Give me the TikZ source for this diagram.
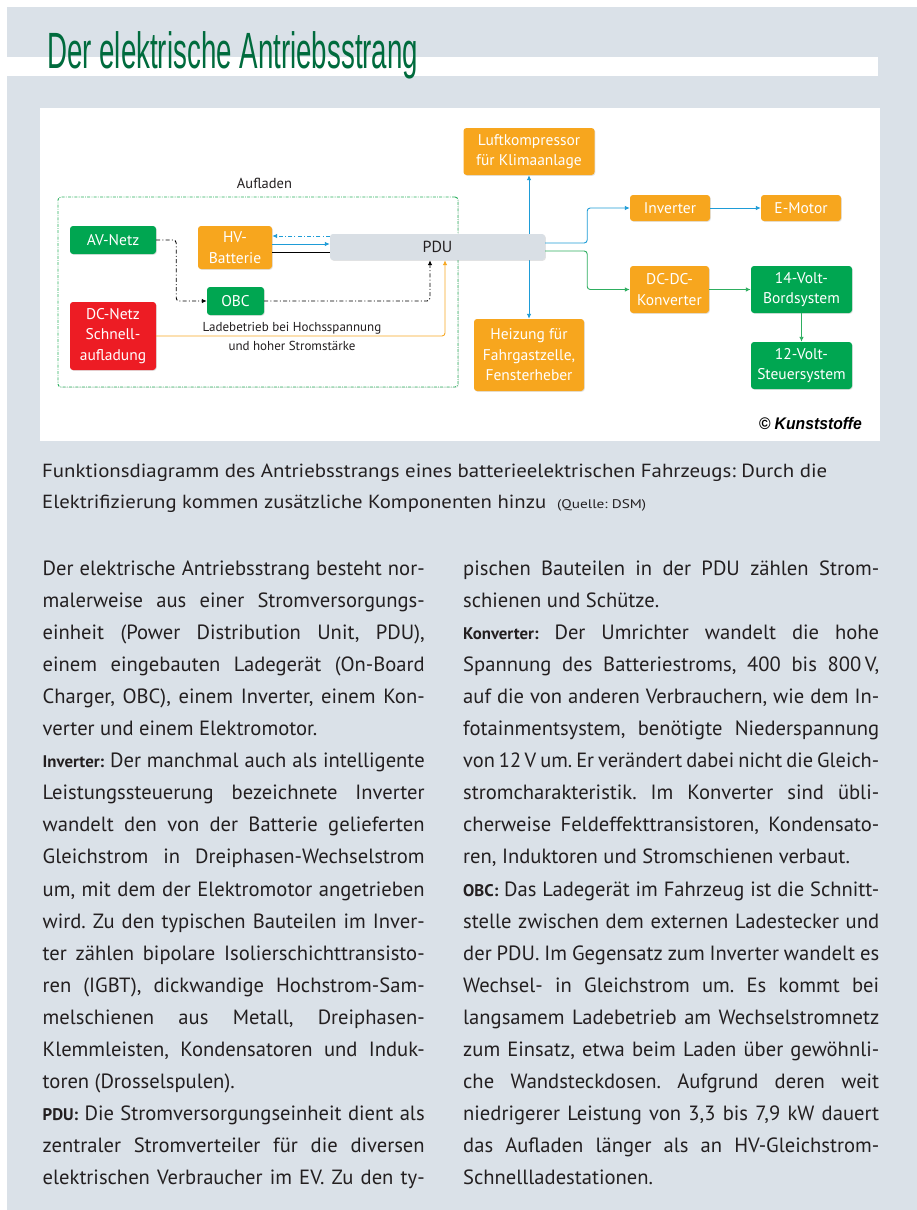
\documentclass[tikz,border=0pt]{standalone}
\usepackage{fontspec}
\usepackage{graphicx}
\setmainfont{PT Sans}
\newfontfamily\libsans{Liberation Sans}
\usetikzlibrary{arrows.meta,shadows,calc}
\definecolor{panelgray}{RGB}{218,225,232}
\definecolor{boxgreen}{RGB}{0,166,81}
\definecolor{boxorange}{RGB}{247,166,30}
\definecolor{boxred}{RGB}{237,28,36}
\definecolor{pdugray}{RGB}{217,223,229}
\definecolor{lineblue}{RGB}{30,156,215}
\definecolor{linegreen}{RGB}{46,174,96}
\definecolor{lineorange}{RGB}{247,168,35}
\definecolor{dashgreen}{RGB}{45,176,95}
\definecolor{titlegreen}{RGB}{0,107,61}
\definecolor{txt}{RGB}{35,31,32}
\frenchspacing
\newcommand\bxfont{\fontsize{15.5}{20.5}\selectfont}
\newcommand\bodyf{\fontsize{20.6}{20.6}\selectfont}
\newcommand\leadin[1]{{\fontsize{16.8}{16.8}\selectfont\bfseries #1}}
\newsavebox\jbox
\newcommand\jline[2]{%
  \sbox\jbox{\spaceskip=0.2em\relax #2}%
  \ifdim\wd\jbox>#1\relax\resizebox{#1}{\height}{\usebox\jbox}%
  \else\hbox to #1{\spaceskip=0.26em plus 4em minus 0.06em\relax #2}\fi}
\newcommand\LL[3]{\node[bodytext] (#1) at (42.5,#2) {\jline{382pt}{#3}};}
\newcommand\LE[3]{\node[bodytext] (#1) at (42.5,#2) {#3};}
\newcommand\RL[3]{\node[bodytext] (#1) at (463,#2) {\jline{416pt}{#3}};}
\newcommand\RE[3]{\node[bodytext] (#1) at (463,#2) {#3};}
\begin{document}
\begin{tikzpicture}[x=1pt,y=-1pt,
  box/.style={rounded corners=3pt, inner sep=1pt, align=center, text=white, font=\bxfont,
    drop shadow={opacity=0.22, shadow xshift=0.8pt, shadow yshift=-0.8pt}},
  gbox/.style={box, fill=boxgreen},
  obox/.style={box, fill=boxorange},
  rbox/.style={box, fill=boxred},
  conn/.style={line width=0.9pt},
  arr/.style={-{Latex[length=5pt,width=4.5pt]}},
  ddash/.style={dash pattern=on 4pt off 2.2pt on 1pt off 2.2pt},
  bodytext/.style={anchor=base west, inner sep=0pt, text=txt, font=\bodyf},
  captext/.style={anchor=base west, inner sep=0pt, text=txt}]
\useasboundingbox (0,0) rectangle (917,1210);
\fill[white] (0,0) rectangle (917,1210);
\fill[panelgray] (7,7) rectangle (917,1210);
\fill[white] (7,57) rectangle (878,76);
\node[anchor=base west, inner sep=0pt, text=titlegreen] (title) at (47,68)
  {\resizebox{371pt}{\height}{\libsans\fontsize{51}{52}\selectfont Der elektrische Antriebsstrang}};
% diagram panel
\fill[white] (40,108) rectangle (880,441);
\node[draw=dashgreen, fill=white, line width=0.9pt, dash pattern=on 3pt off 1.3pt on 0.8pt off 1.3pt,
  rounded corners=3pt, minimum width=400pt, minimum height=190pt, inner sep=0pt,
  drop shadow={opacity=0.15, shadow xshift=0.8pt, shadow yshift=-0.8pt}] (aufbox) at (258,292) {};
\node[text=txt, font=\fontsize{14.5}{15}\selectfont] (auflabel) at (264.5,183) {Aufladen};
\node[gbox, minimum width=86pt, minimum height=28pt] (av) at (113,240) {AV-Netz};
\node[obox, minimum width=74pt, minimum height=43pt] (hv) at (235,247.5) {HV-\\Batterie};
\node[gbox, minimum width=57pt, minimum height=28pt] (obc) at (235.5,301) {OBC};
\node[rbox, minimum width=86pt, minimum height=68pt] (dc) at (113,336) {DC-Netz\\Schnell-\\aufladung};
\node[text=txt, align=center, font=\fontsize{13}{19.5}\selectfont] (ladetext) at (292,336.5)
  {Ladebetrieb bei Hochsspannung\\und hoher Stromstärke};
\node[obox, minimum width=131pt, minimum height=47pt] (luft) at (529,151.5) {Luftkompressor\\für Klimaanlage};
\node[obox, minimum width=110pt, minimum height=72pt] (heiz) at (529,355) {Heizung für\\Fahrgastzelle,\\Fensterheber};
\draw[conn, lineblue, {Latex[length=5pt,width=4.5pt]}-{Latex[length=5pt,width=4.5pt]}] (luft.south) -- (heiz.north);
\node[box, fill=pdugray, text=txt, font=\fontsize{16}{16}\selectfont, minimum width=215pt, minimum height=26pt] (pdu) at (437.5,247) {PDU};
\node[obox, minimum width=80pt, minimum height=26pt] (inv) at (670,208) {Inverter};
\node[obox, minimum width=80pt, minimum height=26pt] (emot) at (801,208) {E-Motor};
\node[obox, minimum width=79pt, minimum height=47pt] (dcdc) at (669.5,289.5) {DC-DC-\\Konverter};
\node[gbox, minimum width=101pt, minimum height=47pt] (v14) at (801.5,289.5) {14-Volt-\\Bordsystem};
\node[gbox, minimum width=101pt, minimum height=47pt] (v12) at (801.5,365.5) {12-Volt-\\Steuersystem};
\node[anchor=base east, inner sep=0pt, text=black] (copy) at (862,429)
  {\resizebox{103pt}{\height}{\libsans\bfseries\itshape\fontsize{16.8}{17}\selectfont © Kunststoffe}};
% connectors
\draw[conn, lineblue, ddash, arr] ($(pdu.west)+(0,-11)$) -- ($(hv.east |- pdu.west)+(0,-11)$);
\draw[conn, lineblue, arr] ($(hv.east |- pdu.west)+(0,-3)$) -- ($(pdu.west)+(0,-3)$);
\draw[conn, black] ($(hv.east |- pdu.west)+(0,5)$) -- ($(pdu.west)+(0,5)$);
\draw[conn, black, ddash, arr, rounded corners=3pt] (av.east) -- ++(20,0) |- (obc.west);
\draw[conn, black, ddash, arr, rounded corners=3pt] (obc.east) -| ($(pdu.south)+(-7.5,0)$);
\draw[conn, lineorange, arr, rounded corners=3pt] (dc.east) -| ($(pdu.south)+(7.5,0)$);
\draw[conn, lineblue, arr, rounded corners=3pt] ($(pdu.east)+(0,-4)$) -- ++(42,0) |- (inv.west);
\draw[conn, linegreen, arr, rounded corners=3pt] ($(pdu.east)+(0,4)$) -- ++(42,0) |- (dcdc.west);
\draw[conn, lineblue, arr] (inv) -- (emot);
\draw[conn, linegreen, arr] (dcdc) -- (v14);
\draw[conn, linegreen, arr] (v14) -- (v12);
% caption
\node[captext] (cap1) at (42,477)
  {\resizebox{785pt}{\height}{\fontsize{19}{19}\selectfont Funktionsdiagramm des Antriebsstrangs eines batterieelektrischen Fahrzeugs: Durch die}};
\node[captext] (cap2) at (42,508)
  {\resizebox{504pt}{\height}{\fontsize{19}{19}\selectfont Elektrifizierung kommen zusätzliche Komponenten hinzu}};
\node[captext] (cap3) at (557,508)
  {\resizebox{89pt}{\height}{\fontsize{12.5}{13}\selectfont (Quelle: DSM)}};
% left column
\LL{l1}{575}{Der elektrische Antriebsstrang besteht nor-}
\LL{l2}{607.1}{malerweise aus einer Stromversorgungs-}
\LL{l3}{639.2}{einheit (Power Distribution Unit, PDU),}
\LL{l4}{671.3}{einem eingebauten Ladegerät (On-Board}
\LL{l5}{703.4}{Charger, OBC), einem Inverter, einem Kon-}
\LE{l6}{735.5}{verter und einem Elektromotor.}
\LL{l7}{767.6}{\leadin{Inverter:} Der manchmal auch als intelligente}
\LL{l8}{799.7}{Leistungssteuerung bezeichnete Inverter}
\LL{l9}{831.8}{wandelt den von der Batterie gelieferten}
\LL{l10}{863.9}{Gleichstrom in Dreiphasen-Wechselstrom}
\LL{l11}{896}{um, mit dem der Elektromotor angetrieben}
\LL{l12}{928.1}{wird. Zu den typischen Bauteilen im Inver-}
\LL{l13}{960.2}{ter zählen bipolare Isolierschichttransisto-}
\LL{l14}{992.3}{ren (IGBT), dickwandige Hochstrom-Sam-}
\LL{l15}{1024.4}{melschienen aus Metall, Dreiphasen-}
\LL{l16}{1056.5}{Klemmleisten, Kondensatoren und Induk-}
\LE{l17}{1088.6}{toren (Drosselspulen).}
\LL{l18}{1120.7}{\leadin{PDU:} Die Stromversorgungseinheit dient als}
\LL{l19}{1152.8}{zentraler Stromverteiler für die diversen}
\LL{l20}{1184.9}{elektrischen Verbraucher im EV. Zu den ty-}
% right column
\RL{r1}{575}{pischen Bauteilen in der PDU zählen Strom-}
\RE{r2}{607.1}{schienen und Schütze.}
\RL{r3}{639.2}{\leadin{Konverter:} Der Umrichter wandelt die hohe}
\RL{r4}{671.3}{Spannung des Batteriestroms, 400 bis 800\,V,}
\RL{r5}{703.4}{auf die von anderen Verbrauchern, wie dem In-}
\RL{r6}{735.5}{fotainmentsystem, benötigte Niederspannung}
\RL{r7}{767.6}{von 12\,V um. Er verändert dabei nicht die Gleich-}
\RL{r8}{799.7}{stromcharakteristik. Im Konverter sind übli-}
\RL{r9}{831.8}{cherweise Feldeffekttransistoren, Kondensato-}
\RE{r10}{863.9}{ren, Induktoren und Stromschienen verbaut.}
\RL{r11}{896}{\leadin{OBC:} Das Ladegerät im Fahrzeug ist die Schnitt-}
\RL{r12}{928.1}{stelle zwischen dem externen Ladestecker und}
\RL{r13}{960.2}{der PDU. Im Gegensatz zum Inverter wandelt es}
\RL{r14}{992.3}{Wechsel- in Gleichstrom um. Es kommt bei}
\RL{r15}{1024.4}{langsamem Ladebetrieb am Wechselstromnetz}
\RL{r16}{1056.5}{zum Einsatz, etwa beim Laden über gewöhnli-}
\RL{r17}{1088.6}{che Wandsteckdosen. Aufgrund deren weit}
\RL{r18}{1120.7}{niedrigerer Leistung von 3,3 bis 7,9 kW dauert}
\RL{r19}{1152.8}{das Aufladen länger als an HV-Gleichstrom-}
\RE{r20}{1184.9}{Schnellladestationen.}
\end{tikzpicture}
\end{document}
